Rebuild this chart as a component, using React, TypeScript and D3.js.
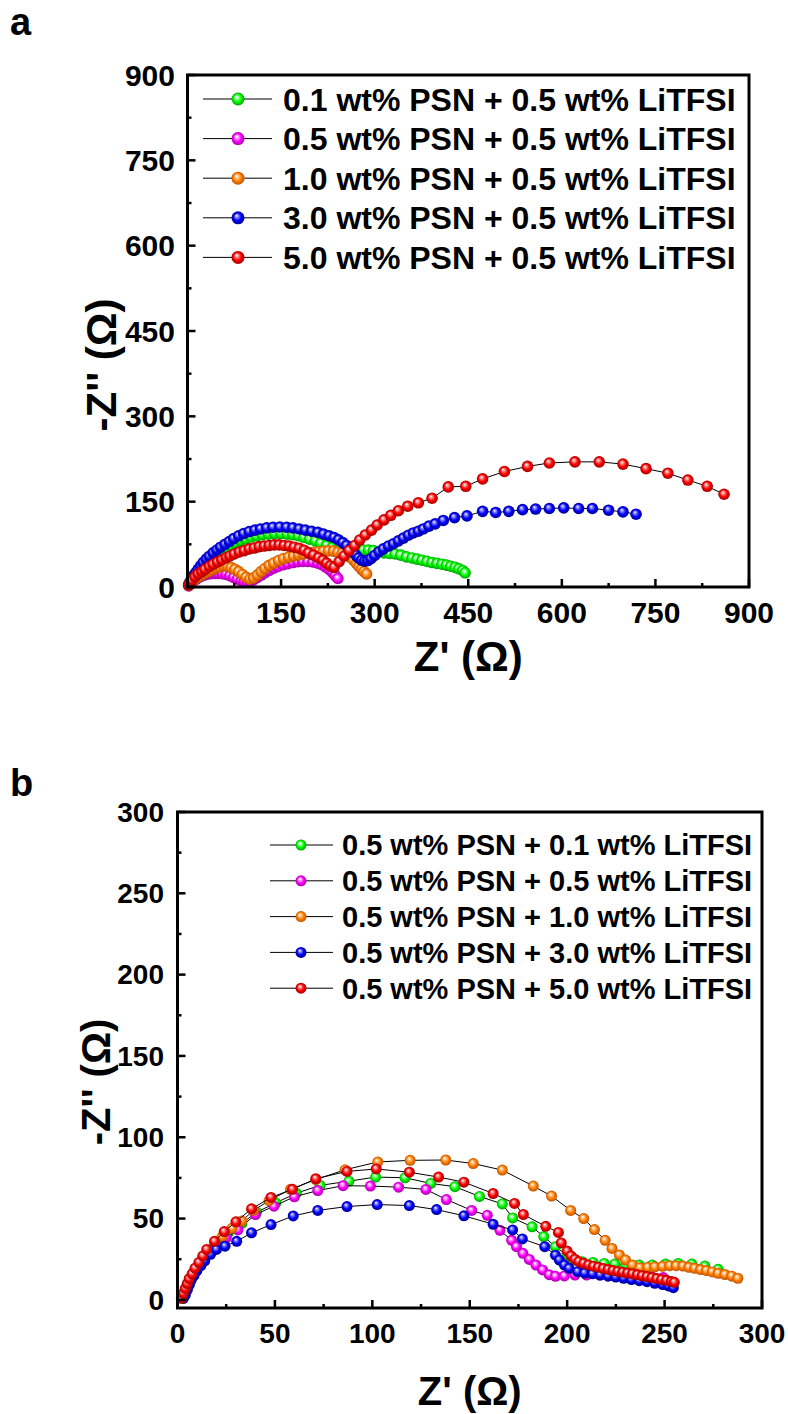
import React from 'react';
import * as d3 from 'd3';

type Pt = [number, number];

// ---------- axis ticks ----------
const A_TICKS = [0, 150, 300, 450, 600, 750, 900];
const A_MINOR = [75, 225, 375, 525, 675, 825];
const B_TICKS = [0, 50, 100, 150, 200, 250, 300];
const B_MINOR = [25, 75, 125, 175, 225, 275];

// ---------- legend labels ----------
const A_LABELS = [
  '0.1 wt% PSN + 0.5 wt% LiTFSI',
  '0.5 wt% PSN + 0.5 wt% LiTFSI',
  '1.0 wt% PSN + 0.5 wt% LiTFSI',
  '3.0 wt% PSN + 0.5 wt% LiTFSI',
  '5.0 wt% PSN + 0.5 wt% LiTFSI',
];
const B_LABELS = [
  '0.5 wt% PSN + 0.1 wt% LiTFSI',
  '0.5 wt% PSN + 0.5 wt% LiTFSI',
  '0.5 wt% PSN + 1.0 wt% LiTFSI',
  '0.5 wt% PSN + 3.0 wt% LiTFSI',
  '0.5 wt% PSN + 5.0 wt% LiTFSI',
];
const SERIES_COLORS = ['green', 'magenta', 'orange', 'blue', 'red'];

// ---------- panel a data (Z', -Z'') ----------
const A_GREEN: Pt[] = [[2,3],[5,8],[8,13],[12,19],[16,25],[20,30],[25,36],[30,42],[36,48],[42,54],[48,59],[55,64],[62,69],[69,74],[77,78],[85,82],[93,85],[102,88],[111,90],[120,92],[130,93],[140,94],[150,94],[160,93],[169,92],[178,90],[187,87],[196,84],[205,81],[214,77],[223,73],[232,69],[241,65],[250,62],[258,61],[266,62],[274,64],[282,65],[290,65],[298,64],[306,62],[315,60],[324,59],[333,58],[342,56],[351,53],[360,51],[368,49],[376,47],[384,45],[392,43],[400,41.5],[408,40],[415,38.5],[422,36.5],[429,34.5],[435,32],[441,29],[445,25]];
const A_MAGENTA: Pt[] = [[2,2],[4,5],[7,8],[10,11],[14,14],[18,17],[22,19],[27,21],[32,22.5],[38,23.5],[44,24],[50,24],[56,23.5],[62,22],[68,20],[74,17],[80,14],[86,11],[91,9],[96,8.5],[101,10],[106,13],[112,17],[118,21],[124,25],[131,29],[138,33],[145,36],[153,39],[161,41],[169,43],[177,44.5],[185,45],[193,45],[201,44],[209,42],[216,39],[222,35],[228,30],[233,25],[237,20],[241,15]];
const A_ORANGE: Pt[] = [[2,3],[4,6],[7,9],[10,12],[14,15.5],[18,18.5],[22,21],[26,23.5],[31,26],[36,28.5],[41,31],[46,33.5],[52,35.5],[58,37],[64,36.5],[70,34],[76,31],[82,27],[88,22],[94,17],[100,14],[106,16],[112,21],[118,27],[124,32.5],[131,38],[138,42],[146,46.5],[154,50],[162,52.5],[170,54.5],[178,56.5],[186,58],[194,59.5],[202,61],[210,62],[218,63],[226,63.5],[234,63],[241,61],[248,59],[255,56],[261,52],[266,47],[271,41],[275,36],[279,31],[283,27],[287,23]];
const A_BLUE: Pt[] = [[2,4],[4,9],[7,14],[10,20],[13,25],[17,31],[21,37],[25,43],[30,49],[35,54],[41,60],[47,65],[53,70],[60,75],[67,80],[74,85],[82,90],[90,94],[99,97.5],[108,100],[117,102],[127,104],[137,105],[148,105.5],[159,105],[169,104],[179,102],[189,100],[199,98],[209,96],[218,93],[227,90],[235,87],[242,83],[249,78],[255,73],[261,67],[266,61],[270,56],[274,51],[279,47],[284,45.5],[289,46.5],[294,50],[300,55.5],[307,62],[314,67],[322,72],[330,76],[338,81],[346,86],[354,91],[362,95],[370,98],[378,102],[387,107],[397,111],[410,117],[428,122],[448,125],[473,133],[494,131],[515,133],[537,136],[558,137],[580,138],[603,139],[627,138],[649,138],[675,135],[698,132],[719,128]];
const A_RED: Pt[] = [[2,4],[4,8],[7,12],[12,18],[17,23],[23,27],[28,31],[35,36],[41,40],[48,44],[55,47.5],[62,51.5],[68,54.5],[75,58],[83,61.5],[91,64],[99,67],[107,68.5],[115,71],[123,72],[131,73],[139,74],[147,74],[155,73],[163,72],[171,70],[179,68],[187,64.5],[194,60],[202,56],[210,51.5],[217,47],[223,42],[229,37],[235,34.5],[243,44.5],[251,54.5],[259,64],[268,73],[276,82.5],[285,91.5],[295,100],[304,109],[315,118],[326,126],[338,134],[353,142],[370,148],[392,156],[418,176],[446,177],[473,190],[508,203],[545,212],[580,218],[621,220],[660,220],[698,216],[735,208],[770,200],[802,188],[833,177],[860,163]];

// ---------- panel b data ----------
const B_GREEN: Pt[] = [[3,1],[4,4],[5,7],[6,10],[7,13],[8.5,16],[10,19.5],[12,23],[14,27],[17,31],[21,36],[26,41],[33,47],[40.6,53.9],[50.5,59.7],[61,65.6],[73.2,70.4],[88,73],[101.7,75.5],[116.8,75.1],[130,71.6],[142.4,69.6],[155,63.6],[166.7,59],[172,50.4],[182,44.9],[188,38.9],[194,32.7],[199.8,27.6],[203,24.5],[207.7,23.5],[213.3,23],[219,22.4],[224.5,22],[230,21.4],[237,21.4],[243.7,21.4],[250.5,22],[257,22.4],[264,22],[270.7,20.8],[277.5,18.8]];
const B_MAGENTA: Pt[] = [[3,2],[4,5],[5,8],[6,11],[7.5,14],[9,17.5],[11,21],[13,25],[16,29],[20,33],[25,38],[31,43],[40,52.5],[49.5,57.6],[60,63.4],[72,67.2],[85,70.2],[99,70],[113.5,69.3],[127.5,67.9],[138,61.7],[151,55],[159,52],[165.5,42.8],[171.5,36.6],[174,32.7],[177.3,28.6],[180.6,24.9],[184,21.4],[187.4,18.4],[190.8,15.5],[194,14.5],[198.6,14.7],[204,15.3],[210,15.3],[216.7,15.3],[223.4,14.9],[230,14.5],[237,14],[243.7,14],[249.3,13.7]];
const B_ORANGE: Pt[] = [[3,2],[4,5],[5,8],[6,11],[7.5,14.5],[9,18],[11,22],[13,26],[16,30],[19,34],[23,39],[28,44],[33,48.5],[39,55],[47,61],[58,68],[71,74],[86,80],[102.8,84.8],[119.4,85.8],[137.7,86],[151.8,83.8],[166.7,79.8],[182.6,70],[192,63.8],[201.8,55],[208.5,50],[214,43.2],[219.5,36.6],[223,31.6],[226.8,27.6],[230,24.5],[233.6,21.4],[237.4,19.8],[241.4,20],[245,20.3],[249,20.6],[252.7,21],[256,21],[259.5,20.8],[262.5,20],[265.5,19.4],[268.5,18.6],[271.5,18],[274.5,17.2],[277.5,16.3],[281,15.6],[284.5,14.6],[287.6,13.3]];
const B_BLUE: Pt[] = [[3,1],[4,3],[5,6],[6,9],[7,12],[8.5,15],[10,18],[12,21],[14,24],[17,28],[20,31],[24.4,33],[30.4,36],[38,41.2],[48,46.3],[59.4,51.6],[72,55],[87,57.4],[102.5,58.6],[119,58],[133,55.5],[147,51.7],[162,46.5],[172,43],[177,37.5],[188.5,32.7],[194,27.5],[196,24.5],[198.6,21.4],[201,19.4],[205.4,17.3],[209,16.5],[213,16],[217,15.3],[221,14.6],[225,14],[229,13.3],[233,12.5],[237,11.8],[241,11.2],[245,10.2],[249,9.4],[252,8.6],[254.5,7.5]];
const B_RED: Pt[] = [[2,1],[3,4],[4,7],[5,10],[6,13],[7.5,16],[9,19.5],[11,23],[13,27],[15,31],[19,36],[24,42],[30,48],[38,56],[48,63],[59,68],[71,74.5],[87,79],[102,80.5],[119,78.5],[134,75.5],[147,72.4],[162,65.4],[173,59.3],[177.5,52.5],[189,45.2],[195.5,41.5],[197,35],[200,30],[202,27],[204,25],[206,23.5],[208.5,22.5],[211,21.5],[213.5,20.7],[216,20],[218.5,19.3],[221,18.7],[223.5,18],[226,17.5],[228.5,17],[231,16.5],[233.5,16],[236,15.4],[238.5,14.8],[241,14.3],[243.5,13.7],[246,13.1],[248.5,12.5],[251,12],[253.5,11.3],[255,10.8]];

const A_SERIES = [A_GREEN, A_MAGENTA, A_ORANGE, A_BLUE, A_RED];
const B_SERIES = [B_GREEN, B_MAGENTA, B_ORANGE, B_BLUE, B_RED];

const GRAD: Record<string, [string, string, string]> = {
  green: ['#b8ffb8', '#00ff00', '#00a000'],
  magenta: ['#ffb8ff', '#ff00ff', '#a800a8'],
  orange: ['#ffd0a0', '#ff8000', '#c05000'],
  blue: ['#9090ff', '#0000ff', '#000090'],
  red: ['#ffa0a0', '#ff0000', '#a00000'],
};

const FONT = '"Liberation Sans", Arial, sans-serif';

interface PanelProps {
  series: Pt[][];
  labels: string[];
  xDomain: [number, number];
  yDomain: [number, number];
  xRange: [number, number];
  yRange: [number, number];
  ticks: number[];
  minor: number[];
  tickFont: number;
  yLabelX: number;
  xLabelY: number;
  xTitleY: number;
  titleFont: number;
  yTitle: { x: number; y: number };
  markerR: number;
  legend: { y0: number; dy: number; lx0: number; lx1: number; mx: number; tx: number; font: number; r: number };
}

function Panel(p: PanelProps) {
  const x = d3.scaleLinear().domain(p.xDomain).range(p.xRange);
  const y = d3.scaleLinear().domain(p.yDomain).range(p.yRange);
  const line = d3.line<Pt>().x(d => x(d[0])).y(d => y(d[1]));
  const [l, r] = p.xRange;
  const [b, t] = p.yRange;
  return (
    <g>
      {p.series.map((s, i) => (
        <g key={i}>
          <path d={line(s) || ''} fill="none" stroke="#000" strokeWidth={1} />
          {s.map((d, j) => (
            <circle key={j} cx={x(d[0])} cy={y(d[1])} r={p.markerR} fill={`url(#sph-${SERIES_COLORS[i]})`} />
          ))}
        </g>
      ))}
      <rect x={l} y={t} width={r - l} height={b - t} fill="none" stroke="#000" strokeWidth={3} />
      {p.ticks.map(v => (
        <g key={'t' + v}>
          <line x1={x(v)} x2={x(v)} y1={b} y2={b - 8} stroke="#000" strokeWidth={2.5} />
          <line x1={l} x2={l + 8} y1={y(v)} y2={y(v)} stroke="#000" strokeWidth={2.5} />
          <text x={x(v)} y={p.xLabelY} textAnchor="middle" fontSize={p.tickFont} fontWeight="bold" fontFamily={FONT}>{v}</text>
          <text x={p.yLabelX} y={y(v) + p.tickFont * 0.35} textAnchor="end" fontSize={p.tickFont} fontWeight="bold" fontFamily={FONT}>{v}</text>
        </g>
      ))}
      {p.minor.map(v => (
        <g key={'m' + v}>
          <line x1={x(v)} x2={x(v)} y1={b} y2={b - 4} stroke="#000" strokeWidth={2.5} />
          <line x1={l} x2={l + 4} y1={y(v)} y2={y(v)} stroke="#000" strokeWidth={2.5} />
        </g>
      ))}
      <text x={(l + r) / 2} y={p.xTitleY} textAnchor="middle" fontSize={p.titleFont} fontWeight="bold" fontFamily={FONT}>Z' (Ω)</text>
      <text transform={`translate(${p.yTitle.x},${p.yTitle.y}) rotate(-90)`} textAnchor="middle" fontSize={p.titleFont} fontWeight="bold" fontFamily={FONT}>-Z'' (Ω)</text>
      {p.labels.map((lab, i) => {
        const yy = p.legend.y0 + i * p.legend.dy;
        return (
          <g key={'lg' + i}>
            <line x1={p.legend.lx0} x2={p.legend.lx1} y1={yy} y2={yy} stroke="#000" strokeWidth={1} />
            <circle cx={p.legend.mx} cy={yy} r={p.legend.r} fill={`url(#sph-${SERIES_COLORS[i]})`} />
            <text x={p.legend.tx} y={yy + p.legend.font * 0.36} fontSize={p.legend.font} fontWeight="bold" fontFamily={FONT}>{lab}</text>
          </g>
        );
      })}
    </g>
  );
}

export default function App() {
  return (
    <svg width={788} height={1414} style={{ position: 'absolute', left: 0, top: 0, background: '#fff' }}>
      <defs>
        {SERIES_COLORS.map(c => (
          <radialGradient key={c} id={`sph-${c}`} cx="0.5" cy="0.5" r="0.5" fx="0.38" fy="0.32">
            <stop offset="0" stopColor="#ffffff" />
            <stop offset="0.22" stopColor={GRAD[c][0]} />
            <stop offset="0.6" stopColor={GRAD[c][1]} />
            <stop offset="1" stopColor={GRAD[c][2]} />
          </radialGradient>
        ))}
      </defs>
      <rect width={788} height={1414} fill="#fff" />
      <text x={10} y={35} fontSize={38} fontWeight="bold" fontFamily={FONT}>a</text>
      <text x={10} y={796} fontSize={38} fontWeight="bold" fontFamily={FONT}>b</text>
      <Panel
        series={A_SERIES}
        labels={A_LABELS}
        xDomain={[0, 900]}
        yDomain={[0, 900]}
        xRange={[187.5, 749]}
        yRange={[587, 75]}
        ticks={A_TICKS}
        minor={A_MINOR}
        tickFont={30}
        yLabelX={175}
        xLabelY={623}
        xTitleY={671}
        titleFont={42}
        yTitle={{ x: 116, y: 365 }}
        markerR={5.8}
        legend={{ y0: 99, dy: 39.6, lx0: 203, lx1: 272, mx: 238, tx: 283, font: 32, r: 6.5 }}
      />
      <Panel
        series={B_SERIES}
        labels={B_LABELS}
        xDomain={[0, 300]}
        yDomain={[-5, 300]}
        xRange={[177.5, 762]}
        yRange={[1308, 812]}
        ticks={B_TICKS}
        minor={B_MINOR}
        tickFont={28}
        yLabelX={164}
        xLabelY={1343}
        xTitleY={1405}
        titleFont={40}
        yTitle={{ x: 110, y: 1082 }}
        markerR={5.5}
        legend={{ y0: 845, dy: 35.8, lx0: 270, lx1: 333, mx: 301, tx: 342, font: 29, r: 5.5 }}
      />
    </svg>
  );
}
